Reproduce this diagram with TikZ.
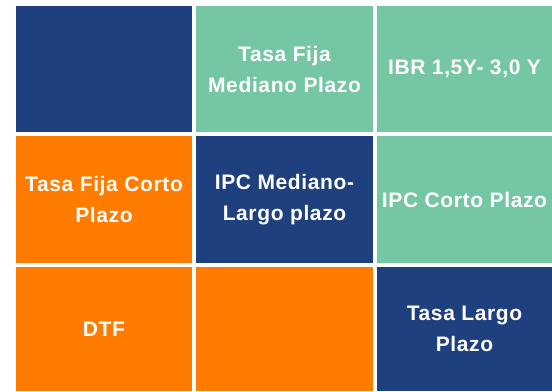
\documentclass[tikz,border=0pt]{standalone}
\usepackage{fontspec}
\newfontfamily\cellfont[LetterSpace=3]{Liberation Sans}
\usepackage{tikz}
\usetikzlibrary{positioning}
\definecolor{cellblue}{rgb}{0.122,0.251,0.494}
\definecolor{cellgreen}{rgb}{0.459,0.776,0.635}
\definecolor{cellorange}{rgb}{1.0,0.486,0.0}
\tikzset{cell/.style={inner sep=0pt, outer sep=0pt, align=center, text=white,
    font=\cellfont\bfseries\fontsize{21bp}{31bp}\selectfont}}
\begin{document}
\begin{tikzpicture}[x=1bp,y=1bp]
\useasboundingbox (0,0) rectangle (552,391);
%%
  \node (blueA) at (104.0bp,322.0bp) [cell,fill=cellblue,minimum width=176bp,minimum height=126bp] {};
  \node (tasaMed) at (284.5bp,322.0bp) [cell,fill=cellgreen,minimum width=177bp,minimum height=126bp] {Tasa Fija\\Mediano Plazo};
  \node (ibr) at (464.5bp,322.0bp) [cell,fill=cellgreen,minimum width=175bp,minimum height=126bp] {IBR 1,5Y- 3,0 Y};
  \node (tasaCorto) at (104.0bp,191.5bp) [cell,fill=cellorange,minimum width=176bp,minimum height=127bp] {Tasa Fija Corto\\Plazo};
  \node (ipcMed) at (284.5bp,191.5bp) [cell,fill=cellblue,minimum width=177bp,minimum height=127bp] {IPC Mediano-\\Largo plazo};
  \node (ipcCorto) at (464.5bp,191.5bp) [cell,fill=cellgreen,minimum width=175bp,minimum height=127bp] {IPC Corto Plazo};
  \node (dtf) at (104.0bp,62.0bp) [cell,fill=cellorange,minimum width=176bp,minimum height=124bp] {DTF};
  \node (orangeB) at (284.5bp,62.0bp) [cell,fill=cellorange,minimum width=177bp,minimum height=124bp] {};
  \node (tasaLargo) at (464.5bp,62.0bp) [cell,fill=cellblue,minimum width=175bp,minimum height=124bp] {Tasa Largo\\Plazo};
%
\end{tikzpicture}
\end{document}
